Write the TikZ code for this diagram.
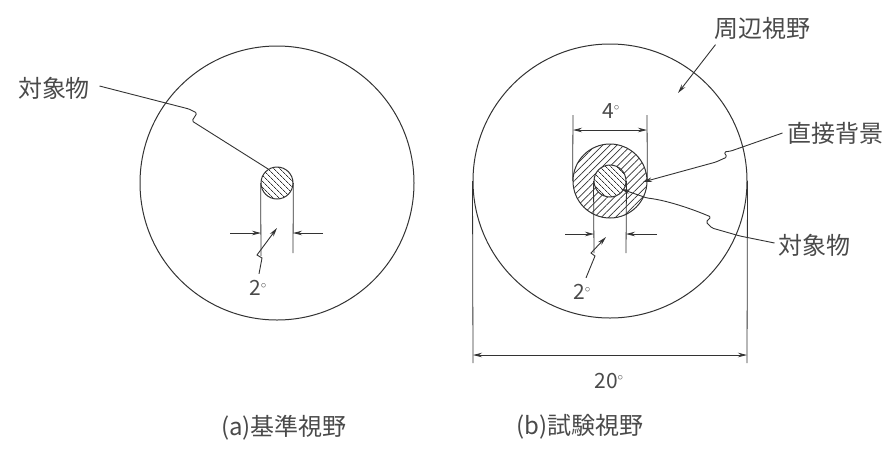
\documentclass[tikz,border=0pt]{standalone}
\usepackage{fontspec}
\newfontfamily\jp{Noto Sans CJK JP}
\usetikzlibrary{patterns.meta,arrows.meta}
\definecolor{ink}{HTML}{333333}
\definecolor{txt}{HTML}{4A4A4A}
\newcommand{\degmark}{$^{\scriptscriptstyle\circ}$}
\begin{document}
\begin{tikzpicture}[x=1pt,y=-1pt, line width=1pt, draw=ink,
  lbl/.style={font=\jp\fontsize{24}{24}\selectfont, text=txt, inner sep=0pt},
  num/.style={font=\jp\fontsize{21}{21}\selectfont, text=txt, inner sep=0pt},
  dimline/.style={line width=0.8pt},
  tipend/.style={-{Stealth[length=9pt,width=4.5pt]}},
  tipboth/.style={{Stealth[length=9pt,width=4.5pt]}-{Stealth[length=9pt,width=4.5pt]}},
  field/.style={circle, draw, inner sep=0pt},
  hatchA/.style={pattern={Lines[angle=-45,distance=4pt,line width=0.7pt]}, pattern color=ink},
  hatchB/.style={pattern={Lines[angle=45,distance=5pt,line width=0.7pt]}, pattern color=ink},
  leader/.style={line width=0.9pt, rounded corners=1.5pt},
]
\useasboundingbox (0,0) rectangle (887,451);

% ---------- (a) ----------
\node[field, minimum size=274pt] (fa) at (277,183) {};
\node[field, hatchA, minimum size=32pt] (oa) at (277,183) {};
\coordinate (oaL) at (261,256);
\coordinate (oaR) at (293,253);
\draw[dimline] (oa.west) -- (oaL);
\draw[dimline] (oa.east) -- (oaR);
\coordinate (aL0) at (230,233); \coordinate (aL1) at (261,233);
\coordinate (aR0) at (323,233); \coordinate (aR1) at (293,233);
\draw[dimline, tipend] (aL0) -- (aL1);
\draw[dimline, tipend] (aR0) -- (aR1);
\node[num] (da) at (258,288) {2\degmark};
\coordinate (daT) at (277,228);
\draw[leader, tipend, rounded corners=0pt] (da.north) ++(1,-6) -- (262,258) -- (257,255) -- (daT);
\node[lbl] (la) at (54,88) {対象物};
\draw[leader] (la.east) ++(9,-2) -- (189,109) -- (197,113) -- (192,121) -- (oa.122);
\node[lbl] (capa) at (284,428) {(a)基準視野};

% ---------- (b) ----------
\node[field, minimum size=274pt] (fb) at (610,181) {};
\node[field, hatchB, minimum size=74pt] (rb) at (610,181) {};
\node[field, preaction={fill=white}, hatchA, minimum size=32pt] (ob) at (610,181) {};
% 2 deg
\coordinate (obL) at (594,253);
\coordinate (obR) at (626,253);
\draw[dimline] (ob.west) -- (obL);
\draw[dimline] (ob.east) -- (obR);
\coordinate (bL0) at (565,234); \coordinate (bL1) at (594,234);
\coordinate (bR0) at (657,234); \coordinate (bR1) at (626,234);
\draw[dimline, tipend] (bL0) -- (bL1);
\draw[dimline, tipend] (bR0) -- (bR1);
\node[num] (db) at (582,292) {2\degmark};
\coordinate (dbT) at (606,237);
\draw[leader, tipend, rounded corners=0pt] (db.north) ++(4,-6) -- (595,256) -- (591,253) -- (dbT);
% 4 deg
\coordinate (rbL) at (573,115);
\coordinate (rbR) at (647,115);
\draw[dimline] (rb.west) -- (rbL);
\draw[dimline] (rb.east) -- (rbR);
\coordinate (c4L) at (573,130); \coordinate (c4R) at (647,130);
\draw[dimline, tipboth] (c4L) -- (c4R);
\node[num] (d4) at (611,111) {4\degmark};
% 20 deg
\coordinate (fbL) at (473,363);
\coordinate (fbR) at (747,363);
\draw[dimline] (fb.west) -- (fbL);
\draw[dimline] (fb.east) -- (fbR);
\coordinate (c20L) at (473,355); \coordinate (c20R) at (747,355);
\draw[dimline, tipboth] (c20L) -- (c20R);
\node[num] (d20) at (609,381) {20\degmark};
% labels and leaders
\node[lbl] (lp) at (762,28) {周辺視野};
\coordinate (lpT) at (678,93);
\draw[leader, tipend] (lp.south west) ++(2,5) -- (lpT);
\node[lbl] (lbg) at (835,133) {直接背景};
\coordinate (lbgT) at (643,182);
\draw[leader, tipend] (lbg.west) ++(-4,0) -- (731,151) -- (724,152) -- (727,157) -- (716,162) -- (lbgT);
\node[lbl] (lob) at (814,245) {対象物};
\coordinate (lobT) at (621,189);
\draw[leader, tipend] (lob.west) ++(-3,-2) -- (740,236) -- (712,228) -- (706,222) -- (711,217)
   .. controls (690,208) and (665,200) .. (647,198) -- (lobT);
\node[lbl] (capb) at (580,427) {(b)試験視野};
\end{tikzpicture}
\end{document}
